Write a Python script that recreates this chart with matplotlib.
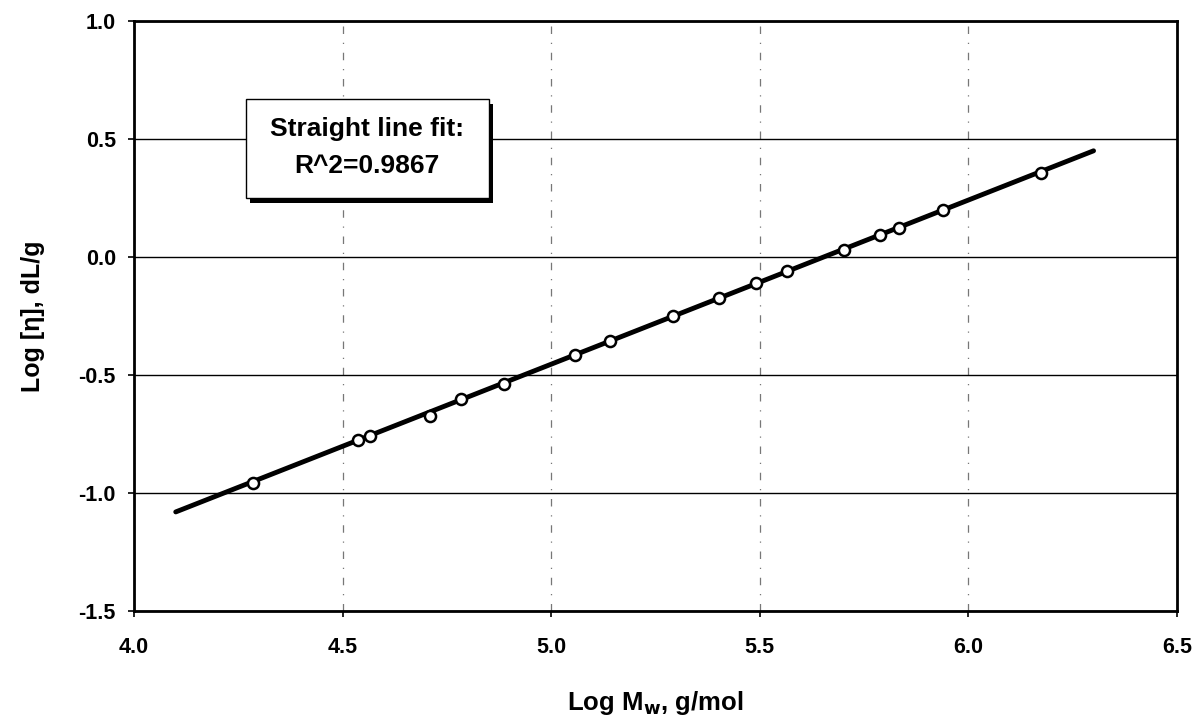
import matplotlib.pyplot as plt

plt.rcParams['font.family'] = ['Liberation Sans', 'DejaVu Sans']
plt.rcParams['font.weight'] = 'bold'

# measured points: log molecular weight vs log intrinsic viscosity
log_mw = [4.286, 4.537, 4.565, 4.710, 4.783, 4.888, 5.057, 5.140, 5.292,
          5.401, 5.491, 5.564, 5.702, 5.789, 5.833, 5.940, 6.174]
log_eta = [-0.956, -0.775, -0.760, -0.674, -0.600, -0.537, -0.417, -0.355, -0.251,
           -0.172, -0.109, -0.059, 0.030, 0.095, 0.125, 0.200, 0.357]

# straight line fit, end points
fit_x = [4.10, 6.30]
fit_y = [-1.08, 0.45]
r_squared = 0.9867

x_ticks = [4.0, 4.5, 5.0, 5.5, 6.0, 6.5]
y_ticks = [-1.5, -1.0, -0.5, 0.0, 0.5, 1.0]

fig = plt.figure(figsize=(12.02, 7.24), dpi=100)
ax = fig.add_axes([0.1115, 0.156, 0.8677, 0.815])

ax.set_xlim(4.0, 6.5)
ax.set_ylim(-1.5, 1.0)
ax.set_xticks(x_ticks)
ax.set_yticks(y_ticks)
ax.set_xticklabels([f'{v:.1f}' for v in x_ticks], fontsize=15.5, fontweight='bold')
ax.set_yticklabels([f'{v:.1f}' for v in y_ticks], fontsize=15.5, fontweight='bold')
ax.tick_params(axis='y', direction='out', length=4, width=1.2, pad=9)
ax.tick_params(axis='x', direction='out', length=4, width=1.2, pad=15)

# horizontal grid solid, vertical grid broken and grey
ax.yaxis.grid(True, color='black', linewidth=1.0, linestyle='-')
ax.xaxis.grid(True, color='#777777', linewidth=0.9, linestyle=(0, (6, 7, 1, 7)))
ax.set_axisbelow(True)

for s in ax.spines.values():
    s.set_linewidth(2.0)
    s.set_color('black')

ax.plot(fit_x, fit_y, color='black', linewidth=3.5, solid_capstyle='round', zorder=3)
ax.plot(log_mw, log_eta, linestyle='none', marker='o', markersize=8,
        markerfacecolor='white', markeredgecolor='black', markeredgewidth=1.8, zorder=4)

ax.set_xlabel('Log M$_\\mathbf{w}$, g/mol', fontsize=18.5, fontweight='bold', labelpad=22)
ax.set_ylabel('Log [η], dL/g', fontsize=18, fontweight='bold', labelpad=24)

# fit annotation box with drop shadow
bx0, by0, bw, bh = 0.107, 0.700, 0.233, 0.168
ax.add_patch(plt.Rectangle((bx0 + 0.004, by0 - 0.008), bw, bh, transform=ax.transAxes,
                           facecolor='black', edgecolor='none', zorder=5))
ax.add_patch(plt.Rectangle((bx0, by0), bw, bh, transform=ax.transAxes,
                           facecolor='white', edgecolor='black', linewidth=1.0, zorder=6))
ax.text(bx0 + bw / 2, by0 + bh * 0.70, 'Straight line fit:', transform=ax.transAxes,
        ha='center', va='center', fontsize=19, fontweight='bold', zorder=7)
ax.text(bx0 + bw / 2, by0 + bh * 0.32, f'R^2={r_squared}', transform=ax.transAxes,
        ha='center', va='center', fontsize=19, fontweight='bold', zorder=7)

fig.savefig('out.png', dpi=100)
